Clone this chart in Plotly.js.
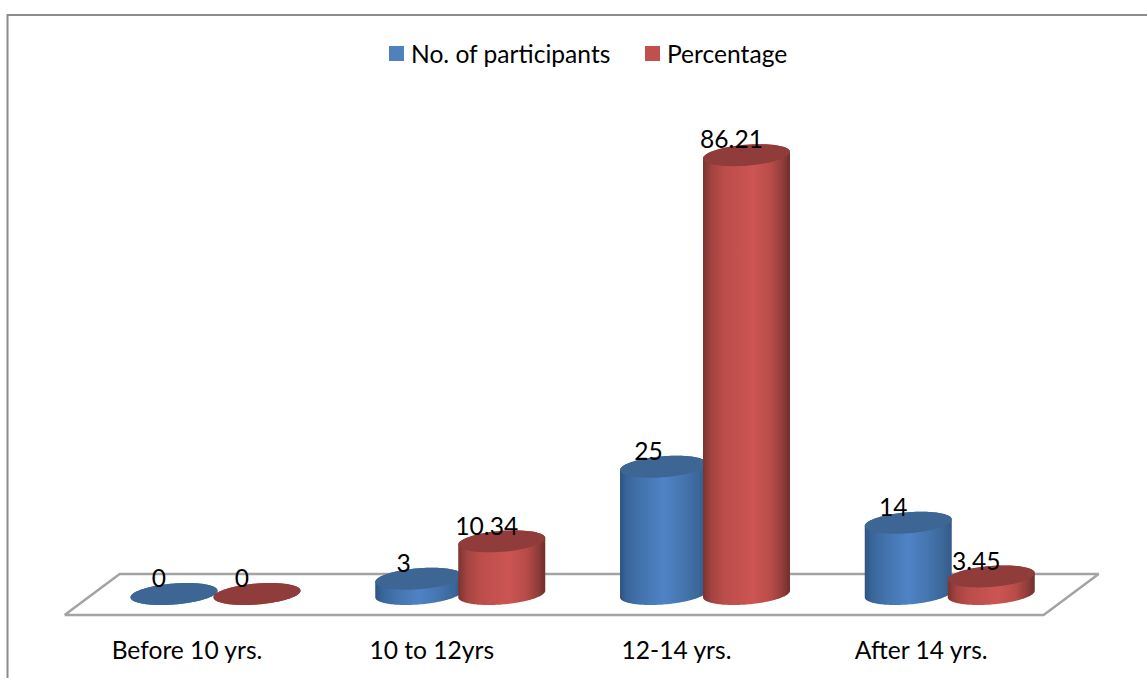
<!DOCTYPE html>
<html>
<head>
<meta charset="utf-8">
<script src="https://cdn.plot.ly/plotly-3.0.1.min.js"></script>
<style>
  html, body { margin: 0; padding: 0; background: #fff; }
  #chart { width: 1147px; height: 678px; }
  /* Pull the legend swatches closer to their labels */
  g.legendpoints path { transform: translate(25.5px, 0) !important; }
</style>
</head>
<body>
<div id="chart"></div>
<script>
// Age at onset, by group
const categories = ['Before 10 yrs.', '10 to 12yrs', '12-14 yrs.', 'After 14 yrs.'];
const participants = [0, 3, 25, 14];
const percentage = [0, 10.34, 86.21, 3.45];
const percentageLabels = ['0', '10.34', '86.21', '3.45'];
const participantLabels = ['0', '3', '25', '14'];

// Axis scale: pixels per category and per value unit
const PX_X = 244.75, PX_Y = 5.09;
const X0_PX = 187, Y0_PX = 594, PLOT_BOTTOM = 620, W = 1147, H = 678;
const px = v => v / PX_X, py = v => v / PX_Y;
const FONT = { family: 'Lato, sans-serif', size: 24.6, color: '#000' };

// Perspective floor and cylinder proportions
const DEPTH = px(55);
const OFFSET = px(41.5);
const CENTER_SHIFT = DEPTH / 2 + px(1);
const RX = px(43.5), RY = py(10.5), SHEAR = py(3.3);
const STEPS = 72;

function arc(cx, cy, from, to) {
  const xs = [], ys = [];
  for (let i = 0; i <= STEPS; i++) {
    const t = from + (to - from) * i / STEPS;
    xs.push(cx + RX * Math.cos(t));
    ys.push(cy + SHEAR * Math.cos(t) - RY * Math.sin(t));
  }
  return [xs, ys];
}

const traces = [];

// Floor
traces.push({
  type: 'scatter', mode: 'lines', hoverinfo: 'skip', showlegend: false,
  x: [-0.5, 3.5, 3.5 + DEPTH, -0.5 + DEPTH, -0.5],
  y: [py(-21), py(-21), py(20), py(20), py(-21)],
  line: { color: '#A3A3A3', width: 2.5, simplify: false }
});

function addSeries(name, values, labels, sign, swatch, cap, stops) {
  const centers = values.map((_, i) => i + CENTER_SHIFT + sign * OFFSET);

  // Solid core of each column; also supplies the legend entry
  traces.push({
    type: 'bar', name, x: centers, y: values, width: px(40), hoverinfo: 'skip',
    marker: { color: swatch, line: { color: swatch, width: 3 } }
  });

  // Cylinder sides with a horizontal shading
  values.forEach((v, i) => {
    const [lx, ly] = arc(centers[i], 0, Math.PI, 0);
    const [ux, uy] = arc(centers[i], v, 0, -Math.PI);
    traces.push({
      type: 'scatter', mode: 'none', hoverinfo: 'skip', showlegend: false,
      x: lx.concat(ux), y: ly.concat(uy), fill: 'toself',
      fillgradient: { type: 'horizontal', colorscale: stops }
    });
  });

  // Elliptical tops
  const capX = [], capY = [];
  values.forEach((v, i) => {
    const [ex, ey] = arc(centers[i], v, 0, 2 * Math.PI);
    capX.push(...ex, null);
    capY.push(...ey, null);
  });
  traces.push({
    type: 'scatter', mode: 'none', hoverinfo: 'skip', showlegend: false,
    x: capX, y: capY, fill: 'toself', fillcolor: cap
  });

  return { centers, values, labels };
}

const blue = addSeries('No. of participants', participants, participantLabels, -1, '#4F81BD', '#3D6694', [
  [0, '#2F5480'], [0.08, '#38659A'], [0.25, '#4474AE'], [0.5, '#4F83C6'],
  [0.72, '#4676B0'], [0.9, '#3B6799'], [1, '#34598A']
]);
const red = addSeries('Percentage', percentage, percentageLabels, 1, '#C0504D', '#8F3C3A', [
  [0, '#7A3331'], [0.1, '#A34441'], [0.25, '#BC4D4A'], [0.58, '#CC5553'],
  [0.78, '#B84C49'], [0.92, '#8F3C3A'], [1, '#6F2E2D']
]);

// Value labels, set up and to the left of each cylinder top
[blue, red].forEach(s => {
  traces.push({
    type: 'scatter', mode: 'text', hoverinfo: 'skip', showlegend: false,
    x: s.centers.map(c => c - px(15)),
    y: s.values.map(v => v + py(13)),
    text: s.labels, textposition: 'middle center', cliponaxis: false,
    textfont: FONT
  });
});

const paperY = y => (PLOT_BOTTOM - y) / PLOT_BOTTOM;
const layout = {
  width: W, height: H, showlegend: true,
  paper_bgcolor: '#fff', plot_bgcolor: '#fff',
  margin: { l: 0, r: 0, t: 0, b: H - PLOT_BOTTOM, pad: 0 },
  barmode: 'overlay', hovermode: false, dragmode: false,
  xaxis: {
    range: [-X0_PX / PX_X, (W - X0_PX) / PX_X],
    tickmode: 'array', tickvals: categories.map((_, i) => i), ticktext: categories,
    ticks: '', showgrid: false, zeroline: false, showline: false, fixedrange: true,
    ticklabelstandoff: 13,
    tickfont: FONT
  },
  yaxis: {
    range: [(Y0_PX - PLOT_BOTTOM) / PX_Y, Y0_PX / PX_Y],
    visible: false, fixedrange: true
  },
  legend: {
    orientation: 'h', x: 371 / W, y: paperY(53.5), xanchor: 'left', yanchor: 'middle',
    bgcolor: 'rgba(0,0,0,0)', traceorder: 'normal', entrywidth: 211, entrywidthmode: 'pixels',
    font: FONT
  },
  // Outer frame: top and left edges only
  shapes: [{
    type: 'path', xref: 'paper', yref: 'paper',
    path: `M 1,${paperY(15)} L ${7.5 / W},${paperY(15)} L ${7.5 / W},${paperY(678)}`,
    line: { color: '#8C8C8C', width: 2 }
  }]
};

Plotly.newPlot('chart', traces, layout, { displayModeBar: false });
</script>
</body>
</html>
